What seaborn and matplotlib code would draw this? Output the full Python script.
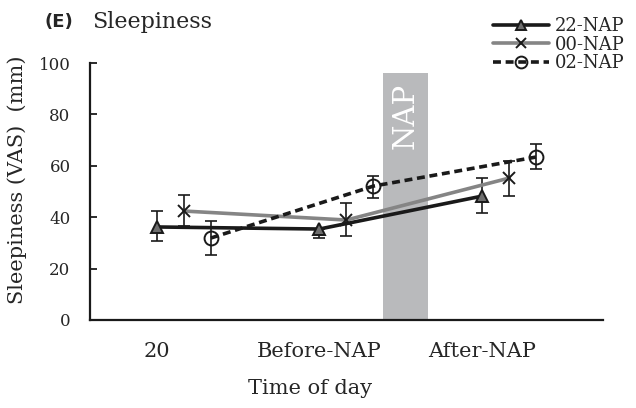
import numpy as np
import pandas as pd
import matplotlib
matplotlib.use("Agg")
import matplotlib.pyplot as plt
import seaborn as sns

# Sleepiness (VAS, mm) by time of day for each nap condition
categories = ["20", "Before-NAP", "After-NAP"]
series = ["22-NAP", "00-NAP", "02-NAP"]
mean_22 = [36.2, 35.4, 48.2]
err_lo_22 = [5.5, 3.4, 6.6]
err_hi_22 = [6.2, 0.0, 7.0]
mean_00 = [42.4, 38.9, 55.2]
err_lo_00 = [5.8, 6.2, 7.0]
err_hi_00 = [6.2, 6.6, 6.7]
mean_02 = [31.9, 52.1, 63.4]
err_lo_02 = [6.6, 4.8, 4.6]
err_hi_02 = [6.6, 3.9, 5.1]

sns.set_theme(style="white")
plt.rcParams["font.family"] = ["DejaVu Serif"]

fig = plt.figure(figsize=(6.36, 4.08), dpi=100)
ax = fig.add_axes([90 / 636, 88 / 408, 513 / 636, 257 / 408])

x_base = np.arange(len(categories))
offsets = {"22-NAP": 0.0, "00-NAP": 0.166, "02-NAP": 0.332}
styles = {
    "22-NAP": dict(color="#1a1a1a", marker="^", ms=9, mfc="#6e6e6e", mec="#1a1a1a", ls="-", dashes=None),
    "00-NAP": dict(color="#858585", marker="x", ms=9, mfc="none", mec="#1a1a1a", ls="-", dashes=None),
    "02-NAP": dict(color="#1a1a1a", marker="o", ms=10, mfc="none", mec="#1a1a1a", ls="--", dashes=(2.2, 1.3)),
}
means = {"22-NAP": mean_22, "00-NAP": mean_00, "02-NAP": mean_02}
errs = {"22-NAP": (err_lo_22, err_hi_22), "00-NAP": (err_lo_00, err_hi_00), "02-NAP": (err_lo_02, err_hi_02)}

# Shaded nap period
ax.axvspan(1.391, 1.668, ymin=0, ymax=0.961, color="#b9babc", lw=0, zorder=0)
ax.text(1.53, 79.4, "NAP", rotation=90, color="white", fontsize=21, ha="center", va="center", zorder=1)

rows = []
for s in series:
    for i, c in enumerate(categories):
        rows.append({"series": s, "pos": x_base[i] + offsets[s], "value": means[s][i]})
df = pd.DataFrame(rows)

handles = []
for s in series:
    st = styles[s]
    sub = df[df["series"] == s]
    lo, hi = errs[s]
    ax.errorbar(sub["pos"], sub["value"], yerr=[lo, hi], fmt="none", ecolor="#1a1a1a",
                elinewidth=1.2, capsize=4.5, capthick=1.2, zorder=3)
    sns.lineplot(data=sub, x="pos", y="value", ax=ax, color=st["color"], lw=2.6,
                 marker=st["marker"], markersize=st["ms"], markerfacecolor=st["mfc"],
                 markeredgecolor=st["mec"], markeredgewidth=1.4, zorder=4, legend=False,
                 linestyle=st["ls"])
    line = ax.lines[-1]
    if st["dashes"]:
        line.set_dashes(st["dashes"])
    h, = ax.plot([], [], color=st["color"], lw=2.6, ls=st["ls"], marker=st["marker"],
                 markersize=st["ms"] * 0.85, markerfacecolor=st["mfc"], markeredgecolor=st["mec"],
                 markeredgewidth=1.4)
    if st["dashes"]:
        h.set_dashes(st["dashes"])
    handles.append(h)

ax.set_xlim(-0.412, 2.745)
ax.set_ylim(0, 100)
ax.set_yticks([0, 20, 40, 60, 80, 100])
ax.set_xticks(x_base)
ax.set_xticklabels(categories)
ax.tick_params(axis="y", direction="in", length=5, width=1.3, color="#1a1a1a", labelsize=12, pad=14, left=True)
ax.tick_params(axis="x", length=0, labelsize=15, pad=16)
for sp in ["top", "right"]:
    ax.spines[sp].set_visible(False)
for sp in ["left", "bottom"]:
    ax.spines[sp].set_color("#1a1a1a")
    ax.spines[sp].set_linewidth(1.6)

ax.set_xlabel("")
ax.set_ylabel("")
ax.text(0.429, -0.268, "Time of day", transform=ax.transAxes, fontsize=15, ha="center", va="center")
ax.text(-0.142, 0.545, "Sleepiness (VAS)  (mm)", transform=ax.transAxes, fontsize=15,
        rotation=90, ha="center", va="center")

fig.text(45 / 636, 1 - 22 / 408, "(E)", fontsize=13, fontweight="bold", family="DejaVu Sans", va="center")
fig.text(92 / 636, 1 - 22 / 408, "Sleepiness", fontsize=16, va="center")

leg = fig.legend(handles, series, loc="upper left", bbox_to_anchor=(493 / 636, 1 - 17 / 408), frameon=False,
                 fontsize=13, handlelength=3.1, handletextpad=0.3, labelspacing=0.03,
                 borderpad=0, borderaxespad=0)

fig.savefig("out.png", dpi=100)
